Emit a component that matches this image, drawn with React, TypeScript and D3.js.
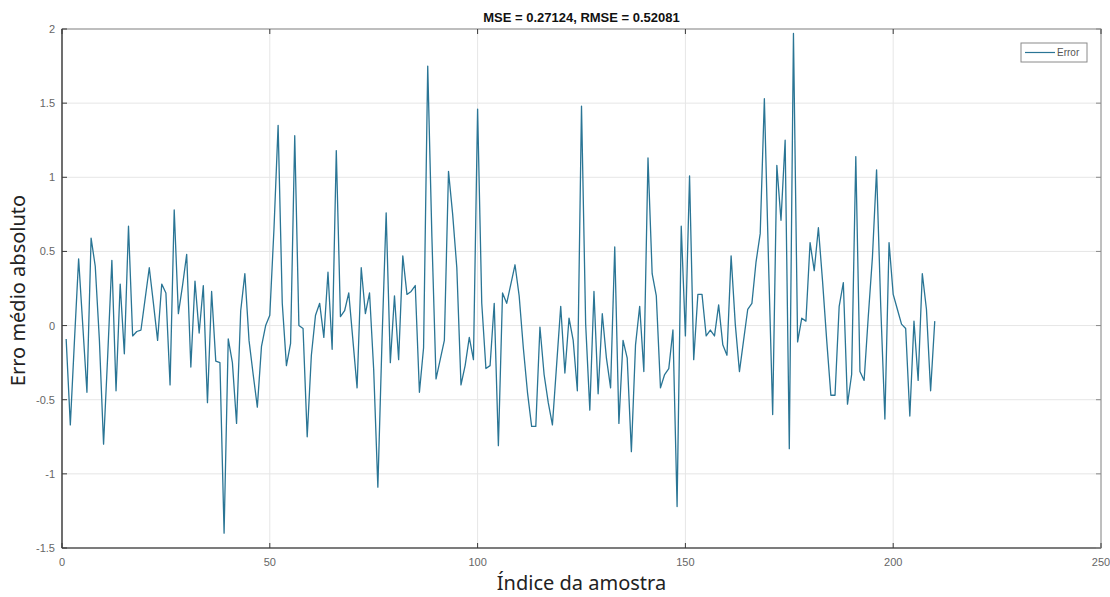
import * as d3 from 'd3';

// Erro por amostra (índices 1..210)
const errorValues: number[] = [
  -0.09, -0.67, -0.1, 0.45, 0.0, -0.45, 0.59, 0.4, -0.1, -0.8,
  -0.2, 0.44, -0.44, 0.28, -0.19, 0.67, -0.07, -0.04, -0.03, 0.18,
  0.39, 0.15, -0.1, 0.28, 0.22, -0.4, 0.78, 0.08, 0.27, 0.48,
  -0.28, 0.3, -0.05, 0.27, -0.52, 0.23, -0.24, -0.25, -1.4, -0.09,
  -0.25, -0.66, 0.1, 0.35, -0.1, -0.33, -0.55, -0.14, 0.0, 0.07,
  0.65, 1.35, 0.15, -0.27, -0.12, 1.28, 0.0, -0.02, -0.75, -0.2,
  0.07, 0.15, -0.08, 0.36, -0.16, 1.18, 0.06, 0.1, 0.22, -0.1,
  -0.42, 0.39, 0.08, 0.22, -0.3, -1.09, -0.1, 0.76, -0.25, 0.2,
  -0.23, 0.47, 0.21, 0.23, 0.27, -0.45, -0.15, 1.75, 0.6, -0.36,
  -0.23, -0.1, 1.04, 0.75, 0.39, -0.4, -0.27, -0.08, -0.23, 1.46,
  0.15, -0.29, -0.27, 0.15, -0.81, 0.22, 0.15, 0.28, 0.41, 0.2,
  -0.15, -0.45, -0.68, -0.68, -0.01, -0.33, -0.52, -0.67, -0.27, 0.13,
  -0.32, 0.05, -0.1, -0.44, 1.48, 0.01, -0.57, 0.23, -0.46, 0.08,
  -0.22, -0.42, 0.53, -0.66, -0.1, -0.22, -0.85, -0.13, 0.13, -0.31,
  1.13, 0.35, 0.2, -0.42, -0.33, -0.29, -0.03, -1.22, 0.67, -0.07,
  1.01, -0.23, 0.21, 0.21, -0.07, -0.03, -0.07, 0.14, -0.13, -0.2,
  0.47, 0.01, -0.31, -0.1, 0.11, 0.15, 0.43, 0.62, 1.53, 0.43,
  -0.6, 1.08, 0.71, 1.25, -0.83, 1.97, -0.11, 0.05, 0.03, 0.56,
  0.37, 0.66, 0.3, -0.1, -0.47, -0.47, 0.13, 0.29, -0.53, -0.33,
  1.14, -0.31, -0.37, 0.06, 0.46, 1.05, 0.13, -0.63, 0.56, 0.21,
  0.11, 0.01, -0.02, -0.61, 0.03, -0.37, 0.35, 0.11, -0.44, 0.03,
];

const xTicks = [0, 50, 100, 150, 200, 250];
const yTicks = [-1.5, -1, -0.5, 0, 0.5, 1, 1.5, 2];

const W = 1110;
const H = 597;
const margin = { top: 29, right: 9, bottom: 49, left: 62 };

export default function App() {
  const innerW = W - margin.left - margin.right;
  const innerH = H - margin.top - margin.bottom;

  const x = d3.scaleLinear().domain([0, 250]).range([0, innerW]);
  const y = d3.scaleLinear().domain([-1.5, 2]).range([innerH, 0]);

  const line = d3.line<number>()
    .x((d, i) => x(i + 1))
    .y((d) => y(d));

  const tickFont = '"Liberation Sans", Arial, sans-serif';
  const labelFont = '"Noto Sans", "Open Sans", sans-serif';

  return (
    <svg width={W} height={H} style={{ position: 'absolute', left: 0, top: 0, background: '#fff' }}>
      <text x={margin.left + innerW / 2} y={22} textAnchor="middle"
        fontFamily={tickFont} fontWeight="bold" fontSize={13} fill="#111">
        MSE = 0.27124, RMSE = 0.52081
      </text>
      <g transform={`translate(${margin.left},${margin.top})`}>
        {/* grid */}
        {xTicks.map((t) => (
          <line key={'gx' + t} x1={x(t)} x2={x(t)} y1={0} y2={innerH} stroke="#e6e6e6" strokeWidth={1} />
        ))}
        {yTicks.map((t) => (
          <line key={'gy' + t} x1={0} x2={innerW} y1={y(t)} y2={y(t)} stroke="#e6e6e6" strokeWidth={1} />
        ))}
        {/* data */}
        <path d={line(errorValues) || ''} fill="none" stroke="#2a7595" strokeWidth={1.3} strokeLinejoin="round" />
        {/* box */}
        <rect x={0} y={0} width={innerW} height={innerH} fill="none" stroke="#8a8a8a" strokeWidth={1} />
        <line x1={0} x2={0} y1={0} y2={innerH} stroke="#3a3a3a" strokeWidth={1.2} />
        <line x1={0} x2={innerW} y1={innerH} y2={innerH} stroke="#3a3a3a" strokeWidth={1.2} />
        {/* ticks */}
        {xTicks.map((t) => (
          <g key={'tx' + t}>
            <line x1={x(t)} x2={x(t)} y1={innerH} y2={innerH - 5} stroke="#3a3a3a" />
            <line x1={x(t)} x2={x(t)} y1={0} y2={5} stroke="#3a3a3a" />
            <text x={x(t)} y={innerH + 18} textAnchor="middle" fontFamily={tickFont} fontSize={11} fill="#666">
              {t}
            </text>
          </g>
        ))}
        {yTicks.map((t) => (
          <g key={'ty' + t}>
            <line x1={0} x2={5} y1={y(t)} y2={y(t)} stroke="#3a3a3a" />
            <line x1={innerW} x2={innerW - 5} y1={y(t)} y2={y(t)} stroke="#8a8a8a" />
            <text x={-7} y={y(t) + 4} textAnchor="end" fontFamily={tickFont} fontSize={11} fill="#666">
              {t}
            </text>
          </g>
        ))}
        {/* legend */}
        <g transform={`translate(${innerW - 80},${14})`}>
          <rect x={0} y={0} width={66} height={19} fill="#fff" stroke="#8a8a8a" strokeWidth={1} />
          <line x1={4} x2={34} y1={9.5} y2={9.5} stroke="#2a7595" strokeWidth={1.2} />
          <text x={36} y={13} fontFamily={tickFont} fontSize={10} fill="#555">Error</text>
        </g>
      </g>
      <text x={margin.left + innerW / 2} y={590} textAnchor="middle" fontFamily={labelFont} fontSize={20} fill="#222">
        Índice da amostra
      </text>
      <text transform={`translate(25,${margin.top + innerH / 2 + 2}) rotate(-90)`} textAnchor="middle"
        fontFamily={labelFont} fontSize={20} fill="#222">
        Erro médio absoluto
      </text>
    </svg>
  );
}
